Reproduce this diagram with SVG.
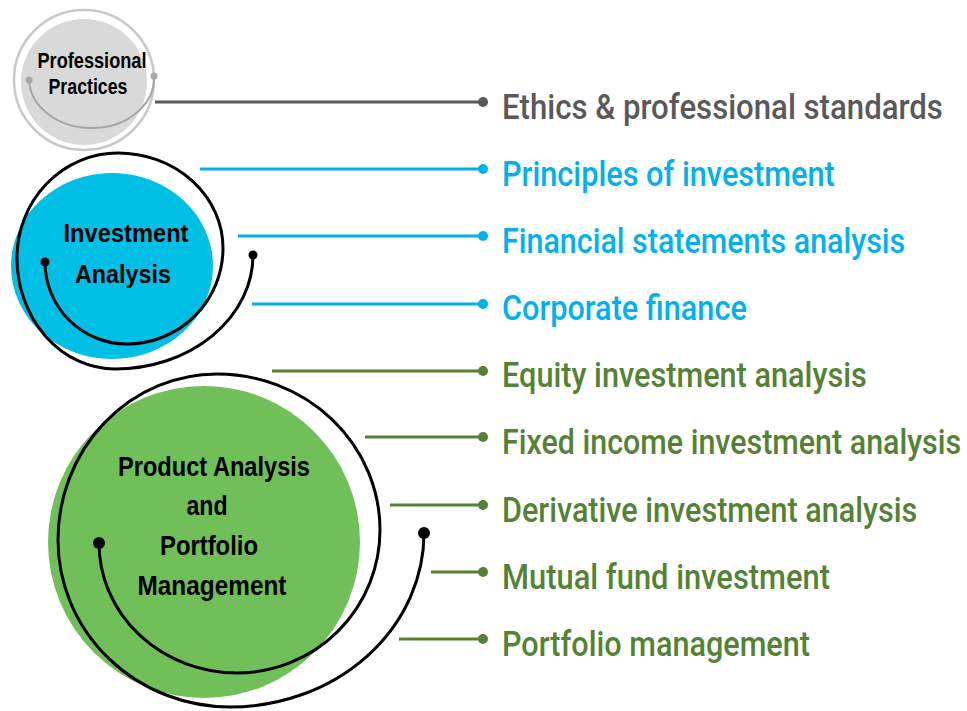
<svg xmlns="http://www.w3.org/2000/svg" width="967" height="711" viewBox="0 0 967 711">
<style>
.lbl{font-family:Roboto,"Liberation Sans",sans-serif;font-size:35px;font-weight:500}
.cl{font-family:"Liberation Sans",Arial,sans-serif;font-weight:bold;fill:#000;text-anchor:middle}
.gray{fill:#595959}.cyan{fill:#00b0f0}.green{fill:#548235}
.spiral{fill:none;stroke:#000;stroke-width:3}
.ln{stroke-width:3}
</style>
<rect width="967" height="711" fill="#fff"/>
<g id="professional-practices">
<circle cx="84" cy="82" r="63" fill="#d9d9d9"/>
<circle cx="84" cy="80" r="70" fill="none" stroke="#c9c9c9" stroke-width="2.5"/>
<path d="M29,80 A62.5,50 0 0 0 154,76" fill="none" stroke="#a6a6a6" stroke-width="2"/>
<circle cx="29" cy="80" r="3.5" fill="#a6a6a6"/>
<circle cx="154" cy="76" r="3.5" fill="#a6a6a6"/>
<text class="cl" x="92" y="68" font-size="22" textLength="109" lengthAdjust="spacingAndGlyphs">Professional</text>
<text class="cl" x="88" y="94" font-size="22" textLength="79" lengthAdjust="spacingAndGlyphs">Practices</text>
</g>
<g id="investment-analysis">
<ellipse cx="112" cy="266" rx="101" ry="93" fill="#00bfe4"/>
<path class="spiral" d="M45,262 A82,82 0 0 0 127,344 A96,96 0 0 0 223,248 A105,95 0 0 0 118,153 A101,105 0 0 0 17,258 A98,111 0 0 0 115,369 A138,114 0 0 0 253,255"/>
<circle cx="45" cy="262" r="4.5" fill="#000"/>
<circle cx="253" cy="255" r="4.5" fill="#000"/>
<text class="cl" x="126" y="242" font-size="26" textLength="125" lengthAdjust="spacingAndGlyphs">Investment</text>
<text class="cl" x="123" y="283" font-size="26" textLength="96" lengthAdjust="spacingAndGlyphs">Analysis</text>
</g>
<g id="product-analysis">
<circle cx="204" cy="542" r="156" fill="#70bf58"/>
<path class="spiral" d="M99,543 A138,130 0 0 0 237,673 A143,143 0 0 0 380,530 A163,156 0 0 0 217,374 A159,166 0 0 0 58,540 A172,167 0 0 0 230,707 A194,174 0 0 0 424,533"/>
<circle cx="99" cy="543" r="6" fill="#000"/>
<circle cx="424" cy="533" r="6" fill="#000"/>
<text class="cl" x="214" y="476" font-size="28" textLength="192" lengthAdjust="spacingAndGlyphs">Product Analysis</text>
<text class="cl" x="207" y="515" font-size="28" textLength="41" lengthAdjust="spacingAndGlyphs">and</text>
<text class="cl" x="209" y="555" font-size="28" textLength="98" lengthAdjust="spacingAndGlyphs">Portfolio</text>
<text class="cl" x="212" y="595" font-size="28" textLength="149" lengthAdjust="spacingAndGlyphs">Management</text>
</g>
<g id="connectors">
<line class="ln" x1="155" y1="102" x2="483" y2="102" stroke="#595959"/>
<circle cx="483" cy="102" r="5" fill="#595959"/>
<line class="ln" x1="200" y1="169" x2="483" y2="169" stroke="#00b0f0"/>
<circle cx="483" cy="169" r="5" fill="#00b0f0"/>
<line class="ln" x1="238" y1="236" x2="483" y2="236" stroke="#00b0f0"/>
<circle cx="483" cy="236" r="5" fill="#00b0f0"/>
<line class="ln" x1="252" y1="304" x2="483" y2="304" stroke="#00b0f0"/>
<circle cx="483" cy="304" r="5" fill="#00b0f0"/>
<line class="ln" x1="272" y1="371" x2="483" y2="371" stroke="#548235"/>
<circle cx="483" cy="371" r="5" fill="#548235"/>
<line class="ln" x1="365" y1="437" x2="483" y2="437" stroke="#548235"/>
<circle cx="483" cy="437" r="5" fill="#548235"/>
<line class="ln" x1="390" y1="505" x2="483" y2="505" stroke="#548235"/>
<circle cx="483" cy="505" r="5" fill="#548235"/>
<line class="ln" x1="431" y1="572" x2="483" y2="572" stroke="#548235"/>
<circle cx="483" cy="572" r="5" fill="#548235"/>
<line class="ln" x1="399" y1="639" x2="483" y2="639" stroke="#548235"/>
<circle cx="483" cy="639" r="5" fill="#548235"/>
</g>
<g id="labels">
<text class="lbl gray" transform="translate(502,119) scale(0.8,1)" textLength="551" lengthAdjust="spacingAndGlyphs">Ethics &amp; professional standards</text>
<text class="lbl cyan" transform="translate(502,186) scale(0.8,1)" textLength="416" lengthAdjust="spacingAndGlyphs">Principles of investment</text>
<text class="lbl cyan" transform="translate(502,253) scale(0.8,1)" textLength="504" lengthAdjust="spacingAndGlyphs">Financial statements analysis</text>
<text class="lbl cyan" transform="translate(502,320) scale(0.8,1)" textLength="306" lengthAdjust="spacingAndGlyphs">Corporate finance</text>
<text class="lbl green" transform="translate(502,387) scale(0.8,1)" textLength="456" lengthAdjust="spacingAndGlyphs">Equity investment analysis</text>
<text class="lbl green" transform="translate(502,454) scale(0.8,1)" textLength="574" lengthAdjust="spacingAndGlyphs">Fixed income investment analysis</text>
<text class="lbl green" transform="translate(502,522) scale(0.8,1)" textLength="519" lengthAdjust="spacingAndGlyphs">Derivative investment analysis</text>
<text class="lbl green" transform="translate(502,589) scale(0.8,1)" textLength="410" lengthAdjust="spacingAndGlyphs">Mutual fund investment</text>
<text class="lbl green" transform="translate(502,656) scale(0.8,1)" textLength="385" lengthAdjust="spacingAndGlyphs">Portfolio management</text>
</g>
</svg>
